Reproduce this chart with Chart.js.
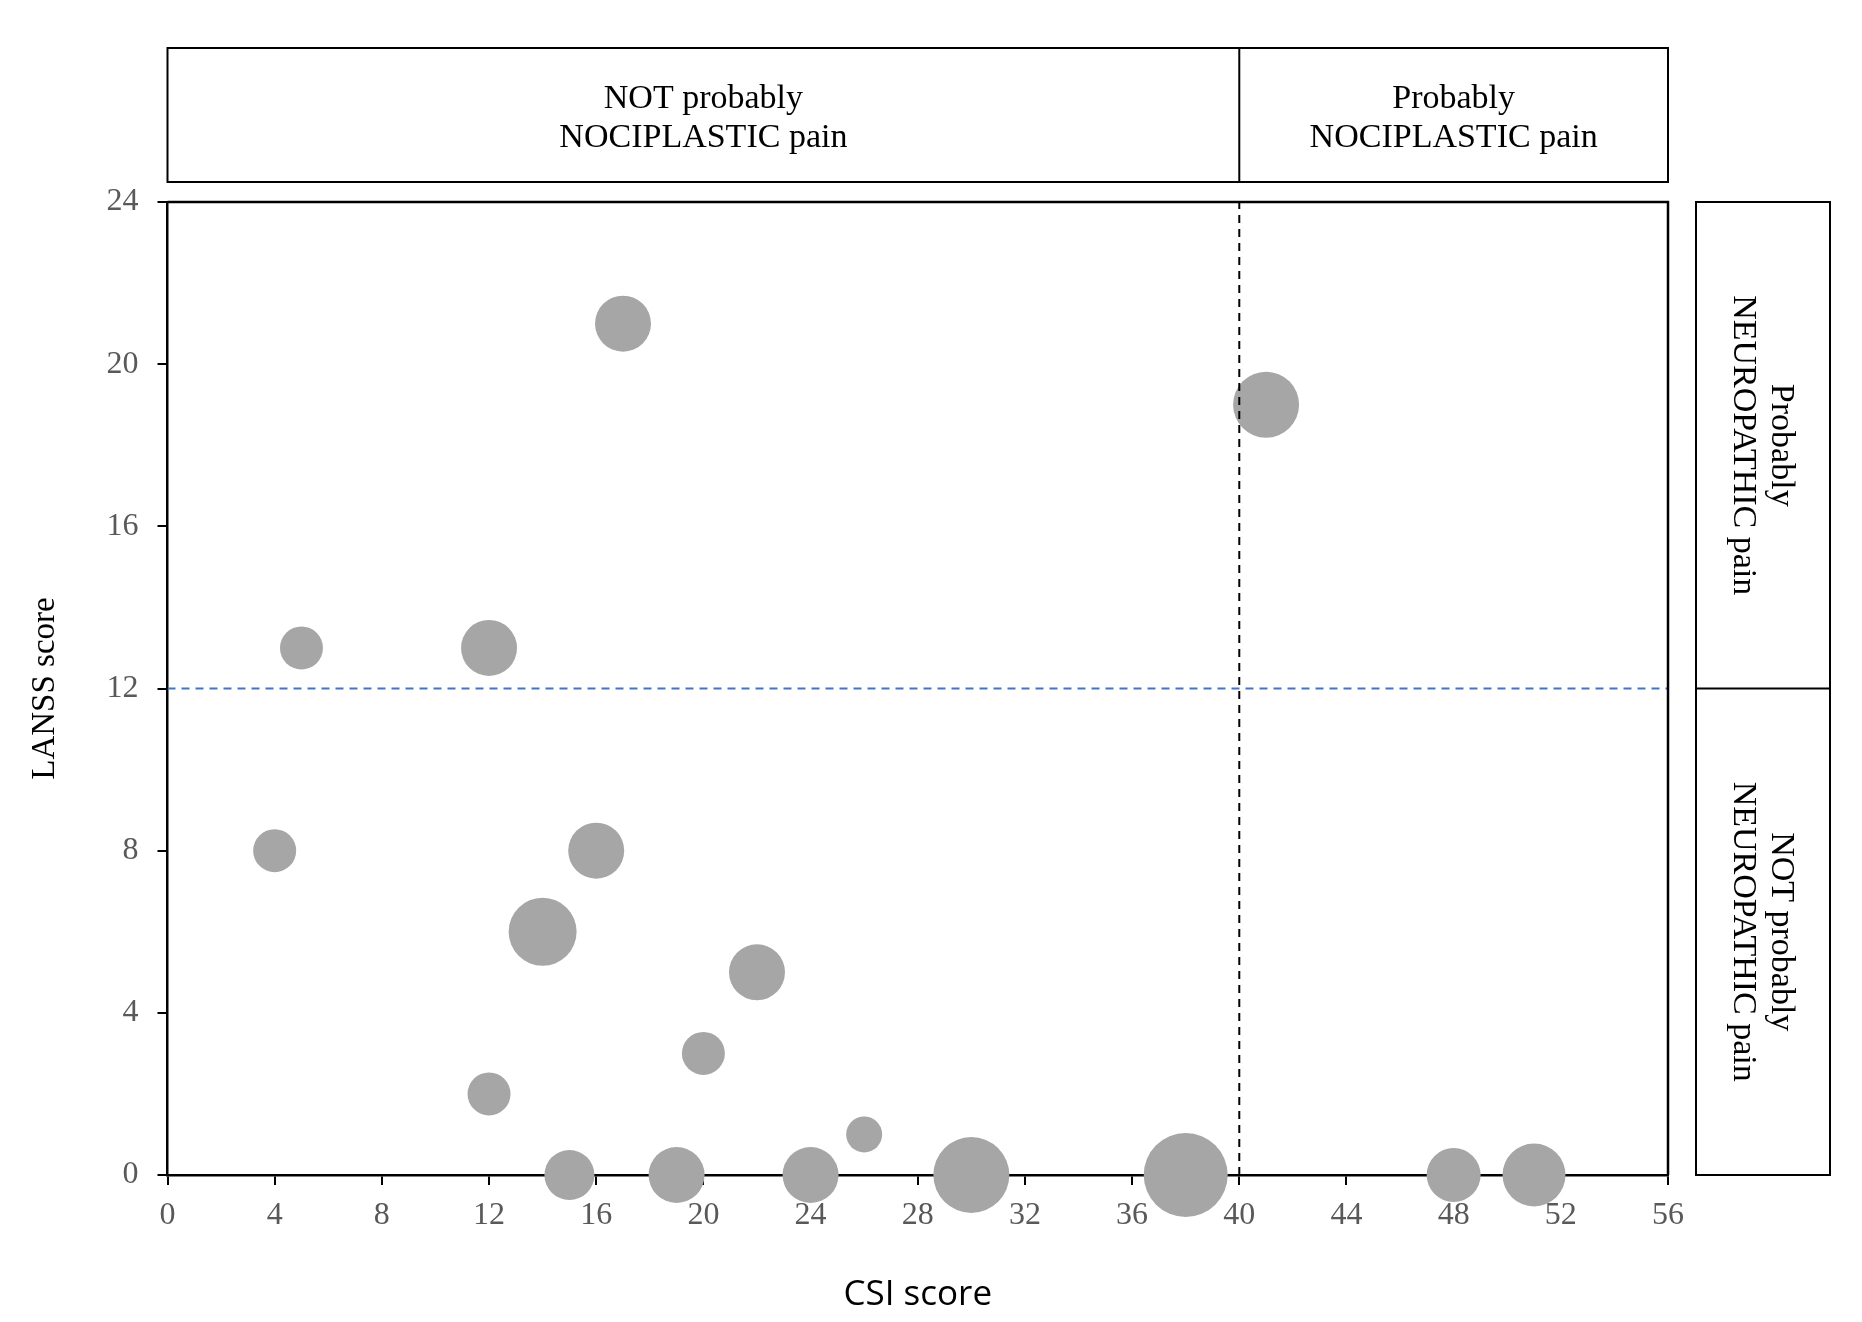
<!DOCTYPE html>
<html>
<head>
<meta charset="utf-8">
<script src="https://cdn.jsdelivr.net/npm/chart.js@4.4.1/dist/chart.umd.min.js"></script>
<style>
  body { margin: 0; background: #fff; }
  canvas { display: block; }
</style>
</head>
<body>
<canvas id="myChart" width="1862" height="1322"></canvas>
<script>
// one bubble per patient
const csiScore = [17, 41, 5, 12, 4, 16, 14, 22, 20, 12, 26, 15, 19, 24, 30, 38, 48, 51];
const lanssScore = [21, 19, 13, 13, 8, 8, 6, 5, 3, 2, 1, 0, 0, 0, 0, 0, 0, 0];
const bubbleSize = [28, 33, 21.5, 28, 21.5, 28, 34, 28, 21.5, 21.5, 18, 25, 28, 28, 38, 42, 27, 31.5];

// cut-offs
const csiCutoff = 40;
const lanssCutoff = 12;

// tick labels
const xTicks = [0, 4, 8, 12, 16, 20, 24, 28, 32, 36, 40, 44, 48, 52, 56];
const yTicks = [0, 4, 8, 12, 16, 20, 24];

// category boxes
const topLabels = [["NOT probably", "NOCIPLASTIC pain"], ["Probably", "NOCIPLASTIC pain"]];
const sideLabels = [["Probably", "NEUROPATHIC pain"], ["NOT probably", "NEUROPATHIC pain"]];

const bubbles = [];
for (let i = 0; i < csiScore.length; i++) {
  bubbles.push({ x: csiScore[i], y: lanssScore[i], r: bubbleSize[i] });
}

const serif = "'Liberation Serif', 'Times New Roman', serif";

const drawLines = function (ctx, lines, cx, cy, gap) {
  const start = cy - ((lines.length - 1) * gap) / 2;
  for (let i = 0; i < lines.length; i++) {
    ctx.fillText(lines[i], cx, start + i * gap);
  }
};

// frame, header boxes and side boxes
const boxPlugin = {
  id: "boxes",
  afterDraw(chart) {
    const ctx = chart.ctx;
    const area = chart.chartArea;
    const xCut = chart.scales.x.getPixelForValue(csiCutoff);
    const yCut = chart.scales.y.getPixelForValue(lanssCutoff);
    const hTop = 48, hBottom = 182;
    const sLeft = 1696, sRight = 1830;

    ctx.save();
    ctx.strokeStyle = "#000";
    ctx.lineWidth = 2.5;
    ctx.beginPath();
    ctx.moveTo(area.left, area.top);
    ctx.lineTo(area.right, area.top);
    ctx.lineTo(area.right, area.bottom);
    ctx.stroke();

    ctx.lineWidth = 2;
    ctx.strokeRect(area.left, hTop, area.right - area.left, hBottom - hTop);
    ctx.beginPath();
    ctx.moveTo(xCut, hTop);
    ctx.lineTo(xCut, hBottom);
    ctx.stroke();

    ctx.strokeRect(sLeft, area.top, sRight - sLeft, area.bottom - area.top);
    ctx.beginPath();
    ctx.moveTo(sLeft, yCut);
    ctx.lineTo(sRight, yCut);
    ctx.stroke();

    ctx.fillStyle = "#000";
    ctx.font = "34px " + serif;
    ctx.textAlign = "center";
    ctx.textBaseline = "middle";
    const hMid = (hTop + hBottom) / 2 + 4;
    drawLines(ctx, topLabels[0], (area.left + xCut) / 2, hMid, 39);
    drawLines(ctx, topLabels[1], (xCut + area.right) / 2, hMid, 39);

    const sMid = (sLeft + sRight) / 2 - 1;
    const spots = [(area.top + yCut) / 2, (yCut + area.bottom) / 2];
    for (let i = 0; i < 2; i++) {
      ctx.save();
      ctx.translate(sMid, spots[i]);
      ctx.rotate(Math.PI / 2);
      drawLines(ctx, sideLabels[i], 0, 0, 38);
      ctx.restore();
    }
    ctx.restore();
  },
};

const data = {
  datasets: [
    {
      type: "line",
      data: [{ x: csiCutoff, y: 0 }, { x: csiCutoff, y: 24 }],
      borderColor: "#000",
      borderWidth: 2,
      borderDash: [8, 6],
      pointRadius: 0,
      order: 0,
    },
    {
      type: "line",
      data: [{ x: 0, y: lanssCutoff }, { x: 56, y: lanssCutoff }],
      borderColor: "#4472c4",
      borderWidth: 2,
      borderDash: [8, 6],
      pointRadius: 0,
      order: 0,
    },
    {
      type: "bubble",
      data: bubbles,
      backgroundColor: "#a6a6a6",
      borderWidth: 0,
      clip: false,
      order: 1,
    },
  ],
};

const config = {
  type: "bubble",
  data: data,
  options: {
    responsive: false,
    animation: false,
    events: [],
    layout: { padding: { left: 0, top: 202, right: 194, bottom: 0 } },
    plugins: { legend: { display: false }, tooltip: { enabled: false } },
    scales: {
      x: {
        type: "linear",
        min: 0,
        max: 56,
        afterBuildTicks: (scale) => {
          scale.ticks = xTicks.map((v) => ({ value: v }));
        },
        afterFit: (scale) => {
          scale.height = 147;
        },
        border: { color: "#000", width: 2.5 },
        grid: { drawOnChartArea: false, color: "#000", lineWidth: 2, tickLength: 10 },
        ticks: { padding: 11, color: "#595959", font: { family: serif, size: 32 } },
        title: {
          display: true,
          text: "CSI score",
          color: "#000",
          font: { family: "'Open Sans', sans-serif", size: 35 },
          padding: { top: 0, bottom: 6 },
        },
      },
      y: {
        type: "linear",
        min: 0,
        max: 24,
        afterBuildTicks: (scale) => {
          scale.ticks = yTicks.map((v) => ({ value: v }));
        },
        afterFit: (scale) => {
          scale.width = 167.5;
        },
        border: { color: "#000", width: 2.5 },
        grid: { drawOnChartArea: false, color: "#000", lineWidth: 2, tickLength: 10 },
        ticks: { padding: 19, color: "#595959", font: { family: serif, size: 32 } },
        title: {
          display: true,
          text: "LANSS score",
          color: "#000",
          font: { family: serif, size: 33 },
          padding: { top: 26, bottom: 0 },
        },
      },
    },
  },
  plugins: [boxPlugin],
};

const myChart = new Chart(document.getElementById("myChart"), config);
</script>
</body>
</html>
